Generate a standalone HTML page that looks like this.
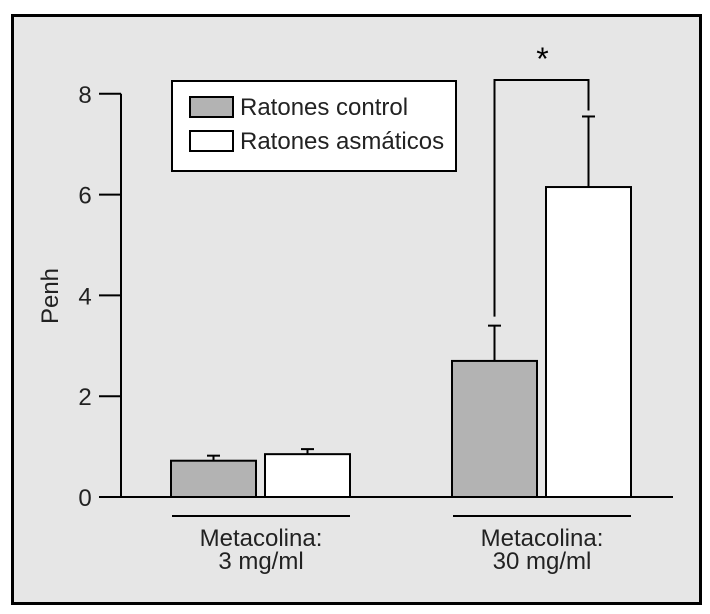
<!DOCTYPE html>
<html><head><meta charset="utf-8"><style>
body{margin:0;background:#fff}
svg{display:block;font-family:"Liberation Sans",sans-serif}
</style></head><body>
<svg width="710" height="614">
<rect x="12.5" y="15.5" width="688" height="588" fill="#e6e6e6" stroke="#000" stroke-width="3"/>
<g id="plot"></g>
</svg>
<script>
const groups=["Metacolina:|3 mg/ml","Metacolina:|30 mg/ml"];
const controlVals=[0.72,2.7];
const controlErr=[0.82,3.4];
const asthmaVals=[0.85,6.15];
const asthmaErr=[0.95,7.55];
const yTicks=[0,2,4,6,8];
const seriesNames=["Ratones control","Ratones asmáticos"];

const NS="http://www.w3.org/2000/svg";
const g=document.getElementById('plot');
function y(v){return 497-v*50.4;}
const groupX=[171,452];
const FS=24;
function mk(t,a,txt){const e=document.createElementNS(NS,t);for(const k in a)e.setAttribute(k,a[k]);if(txt!==undefined)e.textContent=txt;g.appendChild(e);return e;}
let e;
e=mk('line',{x1:121,y1:y(8),x2:121,y2:497,stroke:'#000','stroke-width':2});


e=mk('line',{x1:121,y1:497,x2:673,y2:497,stroke:'#000','stroke-width':2});


yTicks.forEach(t=>{
 e=mk('line',{x1:99,y1:y(t),x2:121,y2:y(t),stroke:'#000','stroke-width':2});
 
 
 e=mk('text',{x:85,y:y(t)+9,'text-anchor':'middle','font-size':FS,fill:'#222'},t);
 
 
});
e=mk('text',{x:0,y:0,transform:'translate(58,296) rotate(-90)','text-anchor':'middle','font-size':FS,fill:'#222'},'Penh');


function bar(x,v,err,fill,name){
 e=mk('line',{x1:x+42.5,y1:y(v),x2:x+42.5,y2:y(err),stroke:'#000','stroke-width':2});
 
 
 e=mk('line',{x1:x+36,y1:y(err),x2:x+49,y2:y(err),stroke:'#000','stroke-width':2});
 
 
 e=mk('rect',{x:x,y:y(v),width:85,height:497-y(v),fill:fill,stroke:'#000','stroke-width':2});
 
 
}
groups.forEach((lab,i)=>{
 const gx=groupX[i];
 bar(gx,controlVals[i],controlErr[i],'#b3b3b3','bar-control-'+(i+1));
 bar(gx+94,asthmaVals[i],asthmaErr[i],'#fff','bar-asthma-'+(i+1));
 e=mk('line',{x1:gx+1,y1:516,x2:gx+179,y2:516,stroke:'#000','stroke-width':2});
 
 
 const parts=lab.split('|');
 e=mk('text',{x:gx+90,y:546,'text-anchor':'middle','font-size':FS,fill:'#222'},parts[0]);
 
 
 e=mk('text',{x:gx+90,y:569,'text-anchor':'middle','font-size':FS,fill:'#222'},parts[1]);
 
 
});
const lx=groupX[1]+42.5, rx=groupX[1]+94+42.5;
e=mk('polyline',{points:`${lx},${y(controlErr[1])-9} ${lx},80 ${rx},80 ${rx},${y(asthmaErr[1])-6}`,fill:'none',stroke:'#000','stroke-width':2});


e=mk('text',{x:(lx+rx)/2+1,y:70,'text-anchor':'middle','font-size':32,fill:'#000'},'*');


e=mk('rect',{x:172,y:81,width:284,height:90,fill:'#fff',stroke:'#000','stroke-width':2});


const fills=['#b3b3b3','#fff'];
seriesNames.forEach((n,i)=>{
 e=mk('rect',{x:190,y:97+i*34,width:43,height:20,fill:fills[i],stroke:'#000','stroke-width':2});
 
 
 e=mk('text',{x:240,y:115+i*34,'font-size':FS,fill:'#222'},n);
 
 
});
</script>
</body></html>
